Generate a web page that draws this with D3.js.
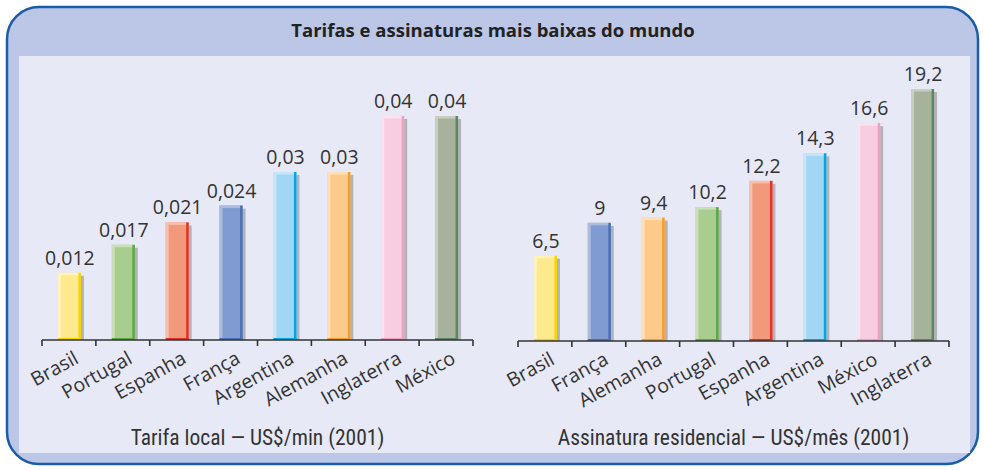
<!DOCTYPE html>
<html><head><meta charset="utf-8">
<script src="https://cdn.jsdelivr.net/npm/d3@7"></script>
<style>body{margin:0;background:#fff}svg{display:block}</style>
</head><body>
<script>
const title = "Tarifas e assinaturas mais baixas do mundo";
const catsLeft = ["Brasil","Portugal","Espanha","França","Argentina","Alemanha","Inglaterra","México"];
const valsLeft = [0.012,0.017,0.021,0.024,0.03,0.03,0.04,0.04];
const titleLeft = "Tarifa local — US$/min (2001)";
const catsRight = ["Brasil","França","Alemanha","Portugal","Espanha","Argentina","México","Inglaterra"];
const valsRight = [6.5,9,9.4,10.2,12.2,14.3,16.6,19.2];
const titleRight = "Assinatura residencial — US$/mês (2001)";
const pal = {
  yellow:["#fee98c","#f6d400","#fff3bb"],
  green:["#a9cc8f","#5da846","#c9e0b6"],
  salmon:["#f2997c","#e3322a","#f8c0ab"],
  blue:["#7f9bd0","#4b70b6","#aabbe0"],
  lblue:["#a1d6f4","#00a8e1","#c6e6f8"],
  orange:["#fdca8c","#f59d2a","#fee0b8"],
  pink:["#f8cde2","#f0a0c2","#fbe2ee"],
  gray:["#a7b29d","#5d875c","#c8cfbf"]
};
const colorsLeft = ["yellow","green","salmon","blue","lblue","orange","pink","gray"];
const colorsRight = ["yellow","blue","orange","green","salmon","lblue","pink","gray"];

const W=985,H=470;
const svg=d3.select("body").append("svg").attr("width",W).attr("height",H);
svg.append("rect").attr("x",7).attr("y",7).attr("width",971).attr("height",457)
  .attr("rx",32).attr("fill","#bcc6e6").attr("stroke","#1b5ca6").attr("stroke-width",2.5);
svg.append("rect").attr("x",19).attr("y",56).attr("width",951).attr("height",397).attr("fill","#e7e9f6");
svg.append("text").attr("x",493).attr("y",37).attr("text-anchor","middle")
  .attr("font-family","Open Sans").attr("font-weight",700).attr("font-size",18.5).attr("fill","#222").text(title);

function chart(cats, vals, colors, axTitle, x0, x1, base, yMax, yTop){
  const x=d3.scaleBand().domain(cats).range([x0,x1]);
  const y=d3.scaleLinear().domain([0,yMax]).range([base,yTop]);
  const g=svg.append("g");
  const bw=23;
  const data=cats.map((c,i)=>({c,v:vals[i],col:pal[colors[i]]}));
  const bars=g.selectAll("g.bar").data(data).join("g").attr("class","bar");
  const bx=d=>x(d.c)+x.bandwidth()/2-bw/2+0.5;
  bars.append("rect").attr("x",d=>bx(d)+3).attr("y",d=>y(d.v)+3).attr("width",bw).attr("height",d=>base-y(d.v)-3).attr("fill","#b2b3b9");
  bars.append("rect").attr("x",bx).attr("y",d=>y(d.v)).attr("width",bw).attr("height",d=>base-y(d.v)).attr("fill",d=>d.col[0]);
  bars.append("rect").attr("x",bx).attr("y",d=>y(d.v)).attr("width",3).attr("height",d=>base-y(d.v)).attr("fill",d=>d.col[2]);
  bars.append("rect").attr("x",bx).attr("y",d=>y(d.v)).attr("width",bw).attr("height",2.5).attr("fill",d=>d.col[2]);
  bars.append("rect").attr("x",d=>bx(d)+bw-2.5).attr("y",d=>y(d.v)).attr("width",2.5).attr("height",d=>base-y(d.v)).attr("fill",d=>d.col[1]);
  bars.append("rect").attr("x",bx).attr("y",base-2).attr("width",bw).attr("height",2).attr("fill",d=>d.col[1]);
  g.selectAll("text.val").data(data).join("text").attr("class","val")
    .attr("x",d=>x(d.c)+x.bandwidth()/2+1).attr("y",d=>y(d.v)-8)
    .attr("text-anchor","middle").attr("font-family","Open Sans").attr("font-size",19.5).attr("fill","#333")
    .text(d=>String(d.v).replace(".",","));
  g.append("line").attr("x1",x0).attr("x2",x1).attr("y1",base).attr("y2",base).attr("stroke","#333").attr("stroke-width",1.6);
  const edges=cats.map(c=>x(c)).concat([x1]);
  g.selectAll("line.tk").data(edges).join("line").attr("class","tk")
    .attr("x1",d=>d).attr("x2",d=>d).attr("y1",base).attr("y2",base+6).attr("stroke","#333").attr("stroke-width",1.6);
  g.selectAll("text.cat").data(cats).join("text").attr("class","cat")
    .attr("transform",c=>`translate(${x(c)+x.bandwidth()/2+4},${base+10}) rotate(-29)`)
    .attr("text-anchor","end").attr("dy","0.72em")
    .attr("font-family","Open Sans").attr("font-size",19.5).attr("fill","#333").text(c=>c);
  svg.append("text").attr("x",(x0+x1)/2).attr("y",445).attr("text-anchor","middle")
    .attr("font-family","Liberation Sans Narrow, Roboto Condensed, Open Sans").attr("font-size",21.5).attr("fill","#333").text(axTitle);
}
chart(catsLeft,valsLeft,colorsLeft,titleLeft,42,473,340,0.04,116);
chart(catsRight,valsRight,colorsRight,titleRight,518,949,341,19.2,89);
</script>
</body></html>
